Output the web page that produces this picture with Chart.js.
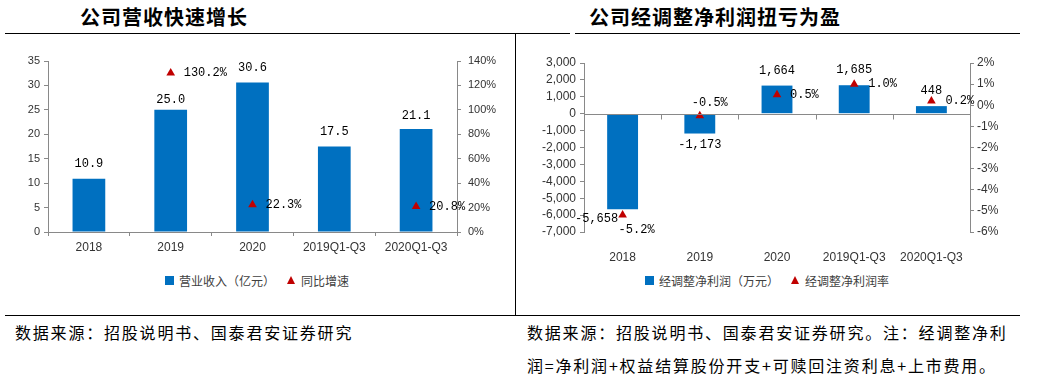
<!DOCTYPE html>
<html><head><meta charset="utf-8">
<script src="https://cdn.jsdelivr.net/npm/chart.js@4/dist/chart.umd.min.js"></script>
<style>
body{margin:0;width:1044px;height:374px;background:#fff;position:relative;overflow:hidden;font-family:"Noto Sans CJK SC",sans-serif;}
.title{position:absolute;font-weight:bold;font-size:20px;letter-spacing:1px;color:#000;line-height:20px;white-space:nowrap}
.hline{position:absolute;height:1px;background:#000}
.vline{position:absolute;width:1px;background:#000}
.src{position:absolute;font-size:16px;letter-spacing:1.8px;color:#000;line-height:20px;white-space:nowrap}
.legend{position:absolute;display:flex;align-items:center;justify-content:center;font-size:12px;color:#404040;white-space:nowrap;height:16px}
.sq{width:9px;height:9px;background:#0070C0;margin-right:5px}
.tri{width:0;height:0;border-left:4.5px solid transparent;border-right:4.5px solid transparent;border-bottom:8px solid #C00000;margin:0 6px 0 12px}
.box{position:absolute}
</style></head>
<body>
<div class="title" style="left:80px;top:7px">公司营收快速增长</div>
<div class="title" style="left:589px;top:7px">公司经调整净利润扭亏为盈</div>
<div class="hline" style="left:5px;top:33px;width:512px"></div>
<div class="hline" style="left:516px;top:33px;width:54px"></div>
<div class="hline" style="left:575px;top:33px;width:445px"></div>
<div class="vline" style="left:515px;top:33px;height:283px"></div>
<div class="hline" style="left:5px;top:315px;width:1015px"></div>
<div class="box" style="left:5px;top:34px;width:505px;height:230px"><canvas id="c1" width="505" height="230"></canvas></div>
<div class="box" style="left:517px;top:34px;width:503px;height:230px"><canvas id="c2" width="503" height="230"></canvas></div>
<div class="legend" id="lg1" style="left:2px;width:510px;top:272px"></div>
<div class="legend" id="lg2" style="left:517px;width:500px;top:272px"></div>
<div class="src" style="left:15px;top:322px">数据来源：招股说明书、国泰君安证券研究</div>
<div class="src" style="left:527px;top:322px">数据来源：招股说明书、国泰君安证券研究。注：经调整净利</div>
<div class="src" style="left:527px;top:355px">润=净利润+权益结算股份开支+可赎回注资利息+上市费用。</div>
<script>
// ---- data ----
const categories = ['2018', '2019', '2020', '2019Q1-Q3', '2020Q1-Q3'];
const revenue = [10.9, 25.0, 30.6, 17.5, 21.1];
const revenueGrowth = [null, 130.2, 22.3, null, 20.8];
const revenueTicks = [0, 5, 10, 15, 20, 25, 30, 35];
const growthTicks = [0, 20, 40, 60, 80, 100, 120, 140];
const leftSeriesNames = ['营业收入（亿元）', '同比增速'];

const adjProfit = [-5658, -1173, 1664, 1685, 448];
const adjMargin = [-5.2, -0.5, 0.5, 1.0, 0.2];
const profitTicks = [-7000, -6000, -5000, -4000, -3000, -2000, -1000, 0, 1000, 2000, 3000];
const marginTicks = [-6, -5, -4, -3, -2, -1, 0, 1, 2];
const rightSeriesNames = ['经调整净利润（万元）', '经调整净利润率'];

// ---- styles ----
const BLUE = '#0070C0', RED = '#C00000', AX = '#898989', TXT = '#333';
const tickFont = {family: 'Liberation Sans, Arial, sans-serif', size: 11};
const tickFont2 = {family: 'Liberation Sans, Arial, sans-serif', size: 12};
const xFont = {family: 'Liberation Sans, Arial, sans-serif', size: 12};
const labelFont = '12px "Liberation Mono", monospace';

function legendHTML(el, names) {
  el.innerHTML = '<span class="sq"></span><span>' + names[0] + '</span><span class="tri"></span><span>' + names[1] + '</span>';
}
legendHTML(document.getElementById('lg1'), leftSeriesNames);
legendHTML(document.getElementById('lg2'), rightSeriesNames);

const valueLabels = {
  id: 'valueLabels',
  afterDatasetsDraw(chart, args, opts) {
    const ctx = chart.ctx;
    (opts.sets || []).forEach(set => {
      const meta = chart.getDatasetMeta(set.dataset);
      const data = chart.data.datasets[set.dataset].data;
      ctx.save();
      ctx.font = labelFont; ctx.fillStyle = '#000'; ctx.textBaseline = 'middle';
      meta.data.forEach((el, i) => {
        const v = data[i];
        if (v === null || v === undefined) return;
        const p = set.place[i];
        ctx.textAlign = p[2] || 'center';
        ctx.fillText(set.format(v), el.x + p[0], el.y + p[1]);
      });
      ctx.restore();
    });
  }
};

const zeroLine = {
  id: 'zeroLine',
  afterDatasetsDraw(chart, args, opts) {
    if (!opts.enabled) return;
    const ctx = chart.ctx, x = chart.scales.x, y = chart.scales.y, a = chart.chartArea;
    const y0 = Math.round(y.getPixelForValue(0)) + 0.5;
    ctx.save();
    ctx.strokeStyle = AX; ctx.lineWidth = 1;
    ctx.beginPath(); ctx.moveTo(a.left, y0); ctx.lineTo(a.right, y0);
    for (let i = 1; i < categories.length; i++) {
      const xb = Math.round((x.getPixelForValue(i - 1) + x.getPixelForValue(i)) / 2) + 0.5;
      ctx.moveTo(xb, y0); ctx.lineTo(xb, y0 + 5);
    }
    ctx.stroke();
    ctx.restore();
  }
};

function yAxis(pos, ticksArr, min, max, width, fmt, pad, font) {
  return {
    position: pos, min: min, max: max,
    afterBuildTicks: s => { s.ticks = ticksArr.map(v => ({value: v})); },
    afterFit: s => { s.width = width; },
    grid: {drawOnChartArea: false, drawTicks: true, tickLength: 4, color: AX},
    border: {color: AX},
    ticks: {font: font, color: TXT, padding: pad, callback: fmt, autoSkip: false}
  };
}

new Chart(document.getElementById('c1'), {
  type: 'bar',
  data: {
    labels: categories,
    datasets: [
      {type: 'line', label: leftSeriesNames[1], data: revenueGrowth, yAxisID: 'y1', showLine: false,
       pointStyle: 'triangle', pointRadius: 5, backgroundColor: RED, borderColor: RED, borderWidth: 0, order: 0},
      {type: 'bar', label: leftSeriesNames[0], data: revenue, yAxisID: 'y', backgroundColor: BLUE,
       barPercentage: 0.4, categoryPercentage: 1, order: 1}
    ]
  },
  options: {
    responsive: false, animation: false,
    layout: {padding: {top: 27, left: 0, right: 0, bottom: 0}},
    plugins: {
      legend: {display: false}, tooltip: {enabled: false},
      zeroLine: {enabled: false},
      valueLabels: {sets: [
        {dataset: 1, format: v => v.toFixed(1), place: [[0, -15], [0, -10], [0, -15], [0, -15], [0, -13]]},
        {dataset: 0, format: v => v.toFixed(1) + '%', place: [[13, 0, 'left'], [13, 0, 'left'], [13, 0, 'left'], [13, 0, 'left'], [13, 0, 'left']]}
      ]}
    },
    scales: {
      x: {
        afterFit: s => { s.height = 32; },
        grid: {display: true, drawOnChartArea: false, drawTicks: true, tickLength: 4, offset: true, color: AX},
        border: {color: AX},
        ticks: {font: xFont, color: TXT, padding: 4, maxRotation: 0, autoSkip: false}
      },
      y: yAxis('left', revenueTicks, 0, 35, 43, v => String(v), 4, tickFont),
      y1: yAxis('right', growthTicks, 0, 140, 53, v => v + '%', 7, tickFont)
    }
  },
  plugins: [valueLabels, zeroLine]
});

new Chart(document.getElementById('c2'), {
  type: 'bar',
  data: {
    labels: categories,
    datasets: [
      {type: 'line', label: rightSeriesNames[1], data: adjMargin, yAxisID: 'y1', showLine: false,
       pointStyle: 'triangle', pointRadius: 5, backgroundColor: RED, borderColor: RED, borderWidth: 0, order: 0},
      {type: 'bar', label: rightSeriesNames[0], data: adjProfit, yAxisID: 'y', backgroundColor: BLUE,
       barPercentage: 0.4, categoryPercentage: 1, order: 1}
    ]
  },
  options: {
    responsive: false, animation: false,
    layout: {padding: {top: 29, left: 0, right: 0, bottom: 0}},
    plugins: {
      legend: {display: false}, tooltip: {enabled: false},
      zeroLine: {enabled: true},
      valueLabels: {sets: [
        {dataset: 1, format: v => v.toLocaleString('en-US'), place: [[-26, 10], [0, 11], [0, -15], [0, -15], [0, -15]]},
        {dataset: 0, format: v => v.toFixed(1) + '%', place: [[-4, 15, 'left'], [10, -13], [13, 0, 'left'], [14, 0, 'left'], [14, 0, 'left']]}
      ]}
    },
    scales: {
      x: {
        afterFit: s => { s.height = 32; },
        grid: {display: false},
        border: {display: false},
        ticks: {font: xFont, color: TXT, padding: 10, maxRotation: 0, autoSkip: false}
      },
      y: yAxis('left', profitTicks, -7000, 3000, 67, v => v.toLocaleString('en-US'), 4, tickFont2),
      y1: yAxis('right', marginTicks, -6, 2, 50, v => v + '%', 3, tickFont2)
    }
  },
  plugins: [valueLabels, zeroLine]
});
</script>
</body></html>
